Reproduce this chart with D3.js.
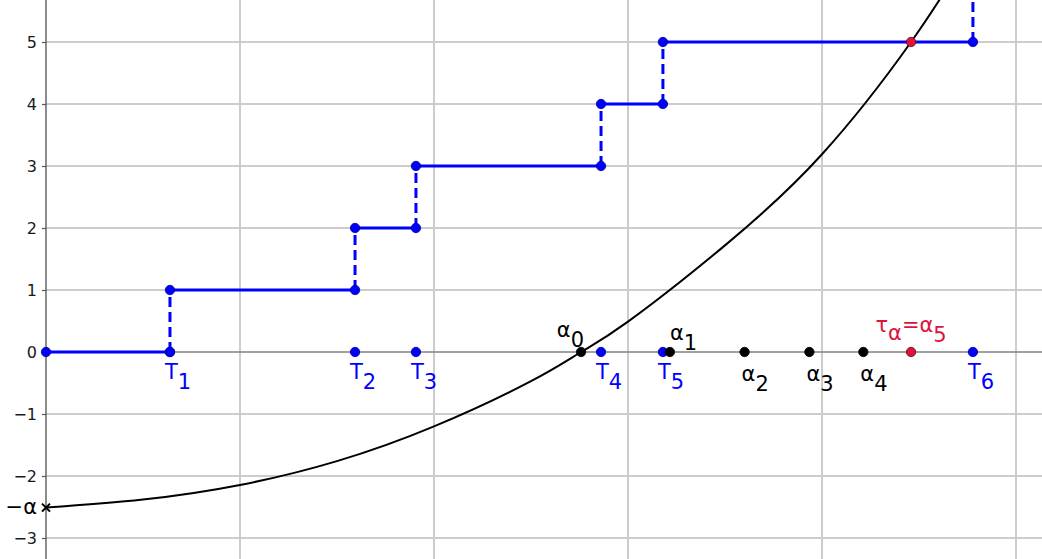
<!DOCTYPE html>
<html>
<head>
<meta charset="utf-8">
<script src="https://cdn.jsdelivr.net/npm/d3@7"></script>
<style>
  body { margin: 0; background: #fff; }
  svg { display: block; font-family: "DejaVu Sans", sans-serif; }
</style>
</head>
<body>
<script>
// jump times T1..T6 and crossing points alpha0..alpha5 (x units)
const tTimes = [0.639, 1.593, 1.907, 2.861, 3.180, 4.778];
const alphaPts = [2.758, 3.216, 3.601, 3.935, 4.213, 4.459];
const stepLevels = [0, 1, 2, 3, 4, 5];
const minusAlpha = -2.51;

// black curve
const curveX = [0, 0.5, 1.0, 1.5, 2.0, 2.5, 2.758, 3.0, 3.5, 4.0, 4.459, 4.75];
const curveY = [-2.51, -2.38, -2.145, -1.76, -1.20, -0.47, 0, 0.49, 1.72, 3.19, 5.0, 6.4];

const yTicks = [-3, -2, -1, 0, 1, 2, 3, 4, 5];
const xGrid = [1, 2, 3, 4, 5];
const tLabels = ["1", "2", "3", "4", "5", "6"];
const alphaLabels = ["0", "1", "2", "3", "4", "5"];

const W = 1042, H = 559;
const blue = "#0000ff", red = "#dc143c";

const svg = d3.select("body").append("svg")
  .attr("width", W).attr("height", H);

var x = d3.scaleLinear().domain([0, (W - 46) / 194]).range([46, W]);
var y = d3.scaleLinear().domain([-(H - 352) / 62, 352 / 62]).range([H, 0]);

svg.append("clipPath").attr("id", "plot")
  .append("rect").attr("x", 0).attr("y", 0).attr("width", W).attr("height", H);

// grid
svg.append("g").selectAll("line")
  .data(yTicks.filter(d => d !== 0))
  .enter().append("line")
  .attr("x1", x(0)).attr("x2", W)
  .attr("y1", d => y(d)).attr("y2", d => y(d))
  .attr("stroke", "#cccccc").attr("stroke-width", 2);

svg.append("g").selectAll("line")
  .data(xGrid)
  .enter().append("line")
  .attr("x1", d => x(d)).attr("x2", d => x(d))
  .attr("y1", 0).attr("y2", H)
  .attr("stroke", "#cccccc").attr("stroke-width", 2);

// axes
svg.append("line")
  .attr("x1", x(0)).attr("x2", W).attr("y1", y(0)).attr("y2", y(0))
  .attr("stroke", "#808080").attr("stroke-width", 1.5);
svg.append("line")
  .attr("x1", x(0)).attr("x2", x(0)).attr("y1", 0).attr("y2", H)
  .attr("stroke", "#666666").attr("stroke-width", 1.5);

var yAxis = d3.axisLeft(y).tickValues(yTicks).tickSize(4).tickPadding(5);
var gy = svg.append("g")
  .attr("transform", "translate(" + x(0) + ",0)")
  .call(yAxis);
gy.select(".domain").remove();
gy.selectAll(".tick line").attr("stroke", "#555").attr("stroke-width", 1.2);
gy.selectAll(".tick text")
  .attr("font-size", 16).attr("fill", "#1a1a1a")
  .attr("font-family", "DejaVu Sans, sans-serif");

// black curve
var curveData = curveX.map((d, i) => [d, curveY[i]]);
svg.append("path")
  .datum(curveData)
  .attr("clip-path", "url(#plot)")
  .attr("fill", "none").attr("stroke", "#000").attr("stroke-width", 2)
  .attr("d", d3.line().x(d => x(d[0])).y(d => y(d[1])).curve(d3.curveNatural));

// staircase
var steps = stepLevels.map((k, i) => ({
  level: k,
  x0: i === 0 ? 0 : tTimes[i - 1],
  x1: tTimes[i]
}));

svg.append("g").selectAll("line")
  .data(steps)
  .enter().append("line")
  .attr("x1", d => x(d.x0)).attr("x2", d => x(d.x1))
  .attr("y1", d => y(d.level)).attr("y2", d => y(d.level))
  .attr("stroke", blue).attr("stroke-width", 3);

svg.append("g").selectAll("line")
  .data(steps)
  .enter().append("line")
  .attr("x1", d => x(d.x1)).attr("x2", d => x(d.x1))
  .attr("y1", d => y(d.level)).attr("y2", d => y(d.level + 1))
  .attr("stroke", blue).attr("stroke-width", 3)
  .attr("stroke-dasharray", "10,5");

// dots
function dot(cx, cy, fill, stroke) {
  svg.append("circle")
    .attr("cx", x(cx)).attr("cy", y(cy)).attr("r", 4.7)
    .attr("fill", fill).attr("stroke", stroke).attr("stroke-width", 0.8);
}

steps.forEach(d => {
  dot(d.x0, d.level, blue, "#00008b");
  dot(d.x1, d.level, blue, "#00008b");
});
tTimes.forEach(t => dot(t, 0, blue, "#00008b"));
alphaPts.slice(0, 5).forEach(a => dot(a, 0, "#000", "#000"));
dot(alphaPts[5], 0, red, "#5a0a1a");
dot(alphaPts[5], 5, red, "#5a0a1a");

// -alpha marker
var mx = x(0), my = y(minusAlpha);
svg.append("path")
  .attr("d", "M" + (mx - 4) + "," + (my - 4) + "L" + (mx + 4) + "," + (my + 4) +
    "M" + (mx - 4) + "," + (my + 4) + "L" + (mx + 4) + "," + (my - 4))
  .attr("stroke", "#000").attr("stroke-width", 2);
svg.append("text")
  .attr("x", mx - 9).attr("y", my + 6)
  .attr("text-anchor", "end").attr("font-size", 21)
  .text("−α");

// labels
function subLabel(px, base, main, sub, color, anchor) {
  var t = svg.append("text")
    .attr("x", px).attr("y", base)
    .attr("font-size", 21).attr("fill", color)
    .attr("text-anchor", anchor || "start");
  t.append("tspan").text(main);
  t.append("tspan").attr("dy", 10).text(sub);
  return t;
}

tTimes.forEach((t, i) => subLabel(x(t) - 5, y(0) + 27, "T", tLabels[i], blue));

// alpha labels: alpha0 and alpha1 above the axis, 2..4 below
subLabel(x(alphaPts[0]) + 3, y(0) - 15, "α", alphaLabels[0], "#000", "end");
subLabel(x(alphaPts[1]), y(0) - 12, "α", alphaLabels[1], "#000");
[2, 3, 4].forEach(i => subLabel(x(alphaPts[i]) - 3, y(0) + 29, "α", alphaLabels[i], "#000"));

// tau_alpha = alpha5
var tl = svg.append("text")
  .attr("x", x(alphaPts[5])).attr("y", y(0) - 20)
  .attr("font-size", 21).attr("fill", red)
  .attr("text-anchor", "middle");
tl.append("tspan").text("τ");
tl.append("tspan").attr("dy", 8).text("α");
tl.append("tspan").attr("dy", -8).text("=α");
tl.append("tspan").attr("dy", 10).text(alphaLabels[5]);
</script>
</body>
</html>
